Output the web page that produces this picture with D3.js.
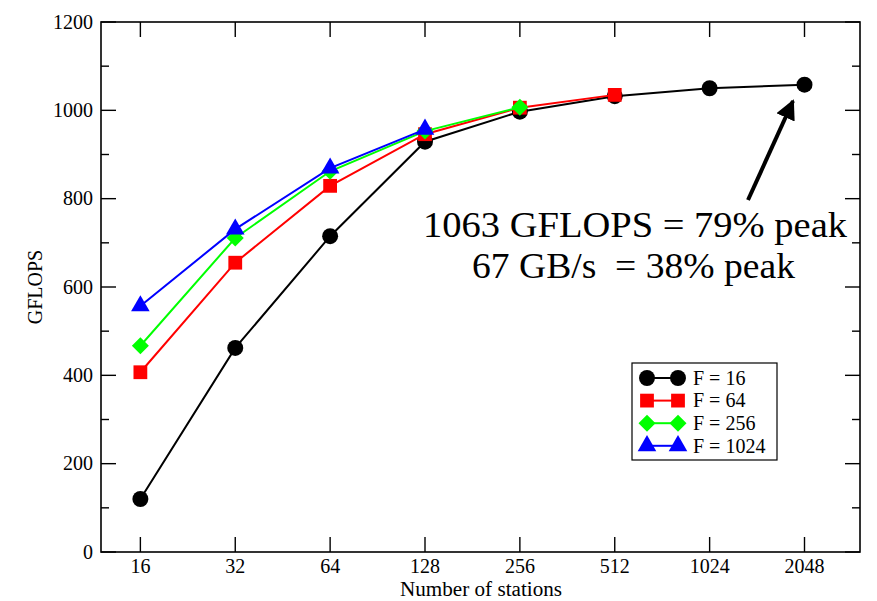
<!DOCTYPE html>
<html><head><meta charset="utf-8">
<script src="https://cdn.jsdelivr.net/npm/d3@7"></script>
<style>body{margin:0;background:#fff;} svg{display:block;} text{font-family:"Liberation Serif","Times New Roman",serif;}</style>
</head><body>
<svg id="chart" width="877" height="601"></svg>
<script>
const stations = [16, 32, 64, 128, 256, 512, 1024, 2048];
const yTicks = [0, 200, 400, 600, 800, 1000, 1200];
const seriesNames = ["F = 16", "F = 64", "F = 256", "F = 1024"];
const seriesColors = ["#000000", "#ff0000", "#00ff00", "#0000ff"];
const seriesShapes = ["circle", "square", "diamond", "triangle"];
const f16 = [120, 462, 715, 929, 997, 1032, 1050, 1058];
const f64 = [407, 655, 829, 946, 1006, 1035];
const f256 = [467, 711, 862, 953, 1007];
const f1024 = [557, 731, 869, 957];
const seriesValues = [f16, f64, f256, f1024];
const annotation = ["1063 GFLOPS = 79% peak", "67 GB/s\u00a0\u00a0= 38% peak"];

const svg = d3.select("#chart");
const L = 101, R = 860, T = 22, B = 552;
const x = d3.scaleLog().base(2).domain([12, 3072]).range([L, R]);
const y = d3.scaleLinear().domain([0, 1200]).range([B, T]);

svg.append("rect").attr("x", L).attr("y", T).attr("width", R - L).attr("height", B - T)
  .attr("fill", "none").attr("stroke", "#000").attr("stroke-width", 1.6);

const yMinor = d3.range(100, 1200, 200);
const g = svg.append("g").attr("stroke", "#000").attr("stroke-width", 1.4);
yTicks.forEach(v => {
  g.append("line").attr("x1", L).attr("x2", L + 15).attr("y1", y(v)).attr("y2", y(v));
  g.append("line").attr("x1", R).attr("x2", R - 15).attr("y1", y(v)).attr("y2", y(v));
});
yMinor.forEach(v => {
  g.append("line").attr("x1", L).attr("x2", L + 8).attr("y1", y(v)).attr("y2", y(v));
  g.append("line").attr("x1", R).attr("x2", R - 8).attr("y1", y(v)).attr("y2", y(v));
});
stations.forEach(s => {
  g.append("line").attr("x1", x(s)).attr("x2", x(s)).attr("y1", B).attr("y2", B - 15);
  g.append("line").attr("x1", x(s)).attr("x2", x(s)).attr("y1", T).attr("y2", T + 15);
});

svg.append("g").selectAll("text").data(yTicks).join("text")
  .attr("x", L - 8).attr("y", d => y(d)).attr("dy", "0.34em")
  .attr("text-anchor", "end").attr("font-size", 20)
  .text(d => d);
svg.append("g").selectAll("text").data(stations).join("text")
  .attr("x", d => x(d)).attr("y", B + 21)
  .attr("text-anchor", "middle").attr("font-size", 20)
  .text(d => d);

svg.append("text").attr("x", 481).attr("y", 596).attr("text-anchor", "middle")
  .attr("font-size", 20).attr("textLength", 162).attr("lengthAdjust", "spacingAndGlyphs")
  .text("Number of stations");
svg.append("text").attr("transform", "translate(42,287) rotate(-90)").attr("text-anchor", "middle")
  .attr("font-size", 20).text("GFLOPS");

function markerPath(shape) {
  if (shape === "circle") return d3.symbol(d3.symbolCircle, 200)();
  if (shape === "square") return d3.symbol(d3.symbolSquare, 190)();
  if (shape === "triangle") return d3.symbol(d3.symbolTriangle, 150)();
  const r = 8.5;
  return `M0,${-r}L${r},0L0,${r}L${-r},0Z`;
}
function marker(sel, shape, color) {
  sel.append("path").attr("d", markerPath(shape)).attr("fill", color);
}

const line = d3.line().x(d => x(d[0])).y(d => y(d[1]));
seriesValues.forEach((vals, i) => {
  const pts = vals.map((v, j) => [stations[j], v]);
  svg.append("path").datum(pts).attr("d", line).attr("fill", "none")
    .attr("stroke", seriesColors[i]).attr("stroke-width", 2);
  pts.forEach(p => {
    const m = svg.append("g").attr("transform", `translate(${x(p[0])},${y(p[1])})`);
    marker(m, seriesShapes[i], seriesColors[i]);
  });
});

const lg = svg.append("g");
lg.append("rect").attr("x", 632).attr("y", 363).attr("width", 145).attr("height", 97)
  .attr("fill", "#fff").attr("stroke", "#000").attr("stroke-width", 1.2);
seriesNames.forEach((n, i) => {
  const yy = 378 + i * 22.6;
  lg.append("line").attr("x1", 647).attr("x2", 678).attr("y1", yy).attr("y2", yy)
    .attr("stroke", seriesColors[i]).attr("stroke-width", 2);
  [647, 678].forEach(xx => {
    const m = lg.append("g").attr("transform", `translate(${xx},${yy})`);
    marker(m, seriesShapes[i], seriesColors[i]);
  });
  lg.append("text").attr("x", 693).attr("y", yy).attr("dy", "0.34em")
    .attr("font-size", 20).text(n);
});

svg.append("defs").append("marker").attr("id", "ah").attr("viewBox", "0 0 10 10")
  .attr("refX", 9).attr("refY", 5).attr("markerWidth", 5).attr("markerHeight", 5)
  .attr("orient", "auto").attr("markerUnits", "strokeWidth")
  .append("path").attr("d", "M0,0 L10,5 L0,10 Z").attr("fill", "#000");
svg.append("line").attr("x1", 748).attr("y1", 200).attr("x2", 793).attr("y2", 101)
  .attr("stroke", "#000").attr("stroke-width", 4).attr("marker-end", "url(#ah)");

svg.append("text").attr("x", 635).attr("y", 237).attr("text-anchor", "middle")
  .attr("font-size", 35).attr("textLength", 424).attr("lengthAdjust", "spacingAndGlyphs")
  .text(annotation[0]);
svg.append("text").attr("x", 633.5).attr("y", 278).attr("text-anchor", "middle")
  .attr("font-size", 35).attr("textLength", 323).attr("lengthAdjust", "spacingAndGlyphs")
  .text(annotation[1]);
</script>
</body></html>
